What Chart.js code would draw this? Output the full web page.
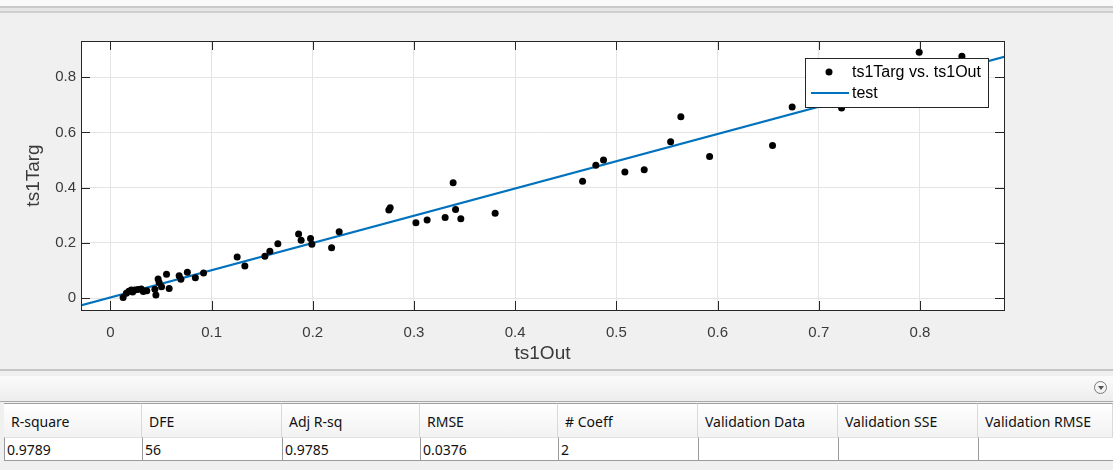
<!DOCTYPE html>
<html>
<head>
<meta charset="utf-8">
<script src="https://cdn.jsdelivr.net/npm/chart.js@4.4.1/dist/chart.umd.min.js"></script>
<style>
    html, body { margin: 0; padding: 0; }
    body { width: 1113px; height: 470px; background: #f0f0f0; position: relative; overflow: hidden; font-family: "Noto Sans", "Open Sans", sans-serif; }
    #strip1 { position: absolute; left: 0; top: 0; width: 1113px; height: 6px; background: #fafafa; }
    #strip2 { position: absolute; left: 0; top: 6px; width: 1113px; height: 2px; background: #c9c9c9; }
    #strip3 { position: absolute; left: 0; top: 8px; width: 1113px; height: 3px; background: #e6e6e6; }
    #strip4 { position: absolute; left: 0; top: 11px; width: 1113px; height: 2px; background: #cfcfcf; }
    #grafico { position: absolute; left: 0; top: 0; }
    #sep { position: absolute; left: 0; top: 369px; width: 1113px; height: 2px; background: #c6c6c6; }
    #bar { position: absolute; left: 0; top: 376px; width: 1113px; height: 25px; background: linear-gradient(#fbfbfb, #ededed); border-bottom: 1px solid #a9a9a9; }
    #arrow { position: absolute; left: 1094px; top: 381px; width: 13px; height: 13px; border: 1px solid #7a7a7a; border-radius: 50%; box-sizing: border-box; }
    #arrow:after { content: ""; position: absolute; left: 2.5px; top: 4px; border-left: 3.5px solid transparent; border-right: 3.5px solid transparent; border-top: 4px solid #555; }
    .hcell, .dcell { position: absolute; box-sizing: border-box; font-size: 14px; color: #111; white-space: nowrap; overflow: hidden; }
    .hcell { top: 403px; height: 34px; line-height: 36px; padding-left: 7px; background: linear-gradient(#ffffff, #f2f2f2); border-right: 1px solid #d9d9d9; border-top: 1px solid #a0a0a0; }
    .dcell { top: 437px; height: 24px; line-height: 23px; padding-left: 2px; background: #ffffff; border-left: 1px solid #9a9a9a; border-top: 1px solid #e0e0e0; border-bottom: 1px solid #9a9a9a; }
</style>
</head>
<body>
<div id="strip1"></div><div id="strip2"></div><div id="strip3"></div><div id="strip4"></div>
<canvas id="grafico" width="1113" height="368"></canvas>
<div id="sep"></div>
<div id="bar"></div>
<div id="arrow"></div>
<div id="tabela"></div>
<script>
// scatter data (ts1Out vs ts1Targ)
const ts1Out = [0.0126, 0.0158, 0.0183, 0.0207, 0.022, 0.0242, 0.0272, 0.0306, 0.0326, 0.036,
    0.044, 0.045, 0.0472, 0.0482, 0.0506, 0.0555, 0.0581, 0.068, 0.0697, 0.0761,
    0.084, 0.0921, 0.1253, 0.1329, 0.1527, 0.1576, 0.1655, 0.186, 0.1885, 0.1978,
    0.1991, 0.2186, 0.2261, 0.2752, 0.2765, 0.3019, 0.313, 0.3308, 0.3387, 0.3411,
    0.3463, 0.3802, 0.4666, 0.4797, 0.4873, 0.5084, 0.5275, 0.5536, 0.5637, 0.5921,
    0.6543, 0.6737, 0.7225, 0.7992, 0.8414];
const ts1Targ = [0.002, 0.018, 0.025, 0.029, 0.022, 0.029, 0.031, 0.033, 0.024, 0.027,
    0.032, 0.011, 0.069, 0.057, 0.041, 0.086, 0.035, 0.081, 0.068, 0.094,
    0.074, 0.091, 0.149, 0.116, 0.152, 0.170, 0.197, 0.232, 0.210, 0.216,
    0.195, 0.182, 0.240, 0.319, 0.327, 0.273, 0.283, 0.292, 0.418, 0.321,
    0.287, 0.307, 0.423, 0.481, 0.500, 0.457, 0.465, 0.566, 0.657, 0.513,
    0.553, 0.692, 0.688, 0.890, 0.876];

// fitted line "test" (end points)
const fitX = [-0.03, 0.9];
const fitY = [-0.027, 0.89];

// axis ticks
const xTicks = [0, 0.1, 0.2, 0.3, 0.4, 0.5, 0.6, 0.7, 0.8];
const yTicks = [0, 0.2, 0.4, 0.6, 0.8];

// goodness of fit table
const colunas = ["R-square", "DFE", "Adj R-sq", "RMSE", "# Coeff", "Validation Data", "Validation SSE", "Validation RMSE"];
const valores = ["0.9789", "56", "0.9785", "0.0376", "2", "", "", ""];

const bordas = [4, 142, 282, 420, 558, 698, 838, 978, 1113];
const tabela = document.getElementById("tabela");
colunas.forEach((c, i) => {
    const h = document.createElement("div");
    h.className = "hcell";
    h.style.left = bordas[i] + "px";
    h.style.width = (bordas[i + 1] - bordas[i]) + "px";
    h.textContent = c;
    tabela.appendChild(h);
    const d = document.createElement("div");
    d.className = "dcell";
    d.style.left = bordas[i] + "px";
    d.style.width = (bordas[i + 1] - bordas[i]) + "px";
    d.textContent = valores[i];
    tabela.appendChild(d);
});

const corEixo = "#262626";
const fonte = "'Liberation Sans', Arial, sans-serif";

// white axes background
const fundo = {
    id: "fundo",
    beforeDraw(chart) {
        const { ctx, chartArea: a } = chart;
        ctx.save();
        ctx.fillStyle = "#ffffff";
        ctx.fillRect(a.left, a.top, a.right - a.left, a.bottom - a.top);
        ctx.restore();
    }
};

// MATLAB style box with inward tick marks
const caixa = {
    id: "caixa",
    afterDatasetsDraw(chart) {
        const { ctx, chartArea: a, scales } = chart;
        ctx.save();
        ctx.strokeStyle = corEixo;
        ctx.lineWidth = 1;
        ctx.beginPath();
        scales.x.ticks.forEach(t => {
            const px = Math.round(scales.x.getPixelForValue(t.value)) + 0.5;
            ctx.moveTo(px, a.bottom); ctx.lineTo(px, a.bottom - 9);
            ctx.moveTo(px, a.top); ctx.lineTo(px, a.top + 9);
        });
        scales.y.ticks.forEach(t => {
            const py = Math.round(scales.y.getPixelForValue(t.value)) + 0.5;
            ctx.moveTo(a.left, py); ctx.lineTo(a.left + 9, py);
            ctx.moveTo(a.right, py); ctx.lineTo(a.right - 9, py);
        });
        ctx.stroke();
        ctx.strokeRect(Math.round(a.left) + 0.5, Math.round(a.top) + 0.5, Math.round(a.right - a.left), Math.round(a.bottom - a.top));
        ctx.restore();
    }
};

// legend box inside the axes (top right)
const legenda = {
    id: "legenda",
    afterDraw(chart) {
        const { ctx } = chart;
        const ds = chart.data.datasets;
        const x = 805.5, y = 58.5, w = 183, h = 49;
        ctx.save();
        ctx.fillStyle = "#ffffff";
        ctx.fillRect(x, y, w, h);
        ctx.strokeStyle = corEixo;
        ctx.lineWidth = 1;
        ctx.strokeRect(x, y, w, h);
        ctx.font = "16px " + fonte;
        ctx.textBaseline = "middle";
        ctx.fillStyle = "#000000";
        ctx.beginPath();
        ctx.arc(829, 72, 3.5, 0, Math.PI * 2);
        ctx.fill();
        ctx.fillText(ds[0].label, 852, 73);
        ctx.strokeStyle = ds[1].borderColor;
        ctx.lineWidth = 2;
        ctx.beginPath();
        ctx.moveTo(811, 93); ctx.lineTo(849, 93);
        ctx.stroke();
        ctx.fillText(ds[1].label, 852, 94);
        ctx.restore();
    }
};

const fmt = v => String(Math.round(v * 10) / 10);

new Chart(document.getElementById("grafico"), {
    type: "scatter",
    data: {
        datasets: [
            {
                label: "ts1Targ vs. ts1Out",
                data: ts1Out.map((v, i) => ({ x: v, y: ts1Targ[i] })),
                pointRadius: 3.5,
                pointBackgroundColor: "#000000",
                pointBorderColor: "#000000",
                pointBorderWidth: 0,
                showLine: false
            },
            {
                label: "test",
                data: fitX.map((v, i) => ({ x: v, y: fitY[i] })),
                showLine: true,
                borderColor: "#0072BD",
                borderWidth: 2.2,
                pointRadius: 0,
                fill: false
            }
        ]
    },
    options: {
        responsive: false,
        animation: false,
        events: [],
        layout: { padding: { left: 0, top: 41, right: 109, bottom: 0 } },
        plugins: {
            legend: { display: false },
            tooltip: { enabled: false }
        },
        scales: {
            x: {
                type: "linear",
                min: -0.029,
                max: 0.883,
                afterBuildTicks: s => { s.ticks = xTicks.map(v => ({ value: v })); },
                afterFit: s => { s.height = 58; },
                grid: { color: "#e4e4e4", drawTicks: false },
                border: { display: false },
                ticks: { color: "#3a3a3a", font: { family: fonte, size: 15 }, padding: 14, maxRotation: 0, callback: fmt },
                title: { display: true, text: "ts1Out", color: "#3a3a3a", font: { family: fonte, size: 19 }, padding: { top: 0, bottom: 3 } }
            },
            y: {
                type: "linear",
                min: -0.043,
                max: 0.931,
                afterBuildTicks: s => { s.ticks = yTicks.map(v => ({ value: v })); },
                afterFit: s => { s.width = 81; },
                grid: { color: "#e4e4e4", drawTicks: false },
                border: { display: false },
                ticks: { color: "#3a3a3a", font: { family: fonte, size: 15 }, padding: 5, callback: fmt },
                title: { display: true, text: "ts1Targ", color: "#3a3a3a", font: { family: fonte, size: 19 }, padding: { top: 22, bottom: 0 } }
            }
        }
    },
    plugins: [fundo, caixa, legenda]
});
</script>
</body>
</html>
